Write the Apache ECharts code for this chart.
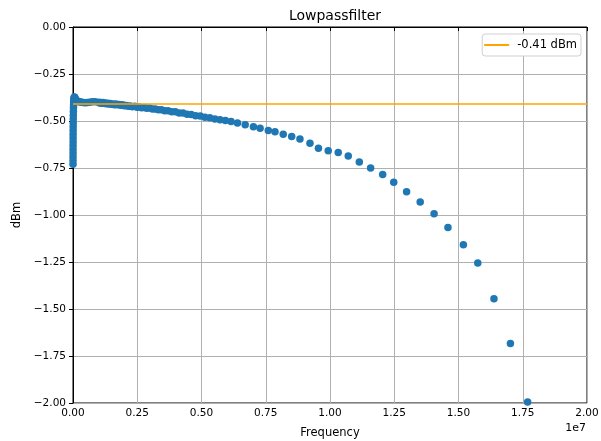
<!DOCTYPE html>
<html><head><meta charset="utf-8">
<script src="https://cdn.jsdelivr.net/npm/echarts@6/dist/echarts.min.js"></script>
<style>html,body{margin:0;padding:0;background:#fff}#c{width:601px;height:441px}</style>
</head><body><div id="c"></div>
<script>
// Frequencies in Hz, dBm values
const freqLow = [1000,1200,1500,1800,2200,2700,3300,3900,4700,5600,6800,8200,10000,12000,15000,18000,22000,27000,33000,39000,47000,56000,68000,82000,100000,120000,150000,180000,220000,270000,330000,400000,480000,560000,650000,750000,860000];
const dbmLow = [-0.73,-0.71,-0.69,-0.67,-0.65,-0.63,-0.61,-0.59,-0.57,-0.55,-0.53,-0.51,-0.49,-0.47,-0.45,-0.43,-0.415,-0.40,-0.39,-0.38,-0.375,-0.372,-0.375,-0.38,-0.385,-0.39,-0.392,-0.395,-0.397,-0.398,-0.40,-0.402,-0.403,-0.402,-0.40,-0.398,-0.398];
const freqMHz = [1.00,1.04,1.08,1.12,1.16,1.20,1.25,1.29,1.34,1.39,1.44,1.50,1.55,1.61,1.67,1.73,1.79,1.86,1.93,2.00,2.07,2.15,2.23,2.31,2.40,2.49,2.58,2.67,2.77,2.87,2.98,3.09,3.20,3.32,3.44,3.57,3.70,3.84,3.98,4.13,4.28,4.44,4.60,4.77,4.95,5.13,5.32,5.52,5.72,5.93,6.15,6.40,6.70,7.02,7.28,7.60,7.86,8.18,8.51,8.83,9.22,9.55,9.93,10.32,10.71,11.14,11.58,12.05,12.48,12.98,13.51,14.05,14.59,15.19,15.75,16.38,17.02,17.69];
const dbmHigh = [-0.400,-0.404,-0.401,-0.405,-0.402,-0.406,-0.404,-0.408,-0.405,-0.409,-0.407,-0.411,-0.409,-0.413,-0.410,-0.414,-0.412,-0.416,-0.414,-0.419,-0.417,-0.421,-0.420,-0.424,-0.422,-0.427,-0.425,-0.429,-0.428,-0.432,-0.431,-0.436,-0.436,-0.440,-0.440,-0.446,-0.446,-0.451,-0.451,-0.457,-0.458,-0.464,-0.465,-0.472,-0.474,-0.480,-0.483,-0.489,-0.493,-0.498,-0.503,-0.511,-0.520,-0.530,-0.539,-0.551,-0.557,-0.571,-0.583,-0.596,-0.619,-0.645,-0.658,-0.668,-0.686,-0.718,-0.750,-0.784,-0.826,-0.876,-0.931,-0.993,-1.066,-1.158,-1.255,-1.445,-1.683,-1.995];
const refLevel = -0.41;
const refName = '-0.41 dBm';
const titleText = 'Lowpassfilter';
const xName = 'Frequency';
const yName = 'dBm';

const points = [];
freqLow.forEach((f,i)=>points.push([f, dbmLow[i]]));
freqMHz.forEach((f,i)=>points.push([f*1e6, dbmHigh[i]]));

const font = 'DejaVu Sans';
const chart = echarts.init(document.getElementById('c'), null, {renderer:'canvas'});
chart.setOption({
  animation:false,
  backgroundColor:'#fff',
  title:{text:titleText,left:330,top:4,textAlign:'center',textStyle:{fontFamily:font,fontSize:14,fontWeight:'normal',color:'#000'}},
  grid:{left:73,right:14,top:27,bottom:38,show:true,borderColor:'#000',borderWidth:1,backgroundColor:'transparent',containLabel:false,outerBoundsMode:'none'},
  legend:{right:20,top:34,orient:'horizontal',padding:[5,4,5,2],itemWidth:25,itemHeight:2,itemGap:8,icon:'rect',
    borderColor:'#d0d0d0',borderWidth:1,borderRadius:3,backgroundColor:'#fff',
    textStyle:{fontFamily:font,fontSize:11.5,color:'#000',padding:[0,0,0,3]},data:[{name:refName,icon:'rect'}]},
  xAxis:{type:'value',min:0,max:2e7,interval:2.5e6,name:xName,nameLocation:'middle',nameGap:24,
    nameTextStyle:{fontFamily:font,fontSize:11.5,color:'#000'},
    axisLine:{show:true,lineStyle:{color:'#000'}},axisTick:{show:true,length:4,lineStyle:{color:'#000'}},
    axisLabel:{fontFamily:font,fontSize:10.5,color:'#000',margin:5,formatter:v=>(v/1e7).toFixed(2)},
    splitLine:{show:true,lineStyle:{color:'#b0b0b0',width:1}}},
  yAxis:{type:'value',min:-2,max:0,interval:0.25,name:yName,nameLocation:'middle',nameGap:49,nameRotate:90,
    nameTextStyle:{fontFamily:font,fontSize:11.5,color:'#000'},
    axisLine:{show:true,lineStyle:{color:'#000'}},axisTick:{show:true,length:4,lineStyle:{color:'#000'}},
    axisLabel:{fontFamily:font,fontSize:10.5,color:'#000',margin:7,formatter:v=>v.toFixed(2).replace('-','\u2212').replace('\u22120.00','0.00')},
    splitLine:{show:true,lineStyle:{color:'#b0b0b0',width:1}}},
  graphic:[{type:'text',right:15,top:423,style:{text:'1e7',font:'11px "DejaVu Sans"',fill:'#000'}}],
  series:[
    {type:'scatter',name:'data',data:points,symbol:'circle',symbolSize:7.5,itemStyle:{color:'#1f77b4',opacity:1},z:2},
    {type:'line',name:refName,data:[[0,refLevel],[2e7,refLevel]],symbol:'none',showSymbol:false,lineStyle:{color:'#ffa500',width:1.5},itemStyle:{color:'#ffa500'},z:3}
  ]
});
</script></body></html>
